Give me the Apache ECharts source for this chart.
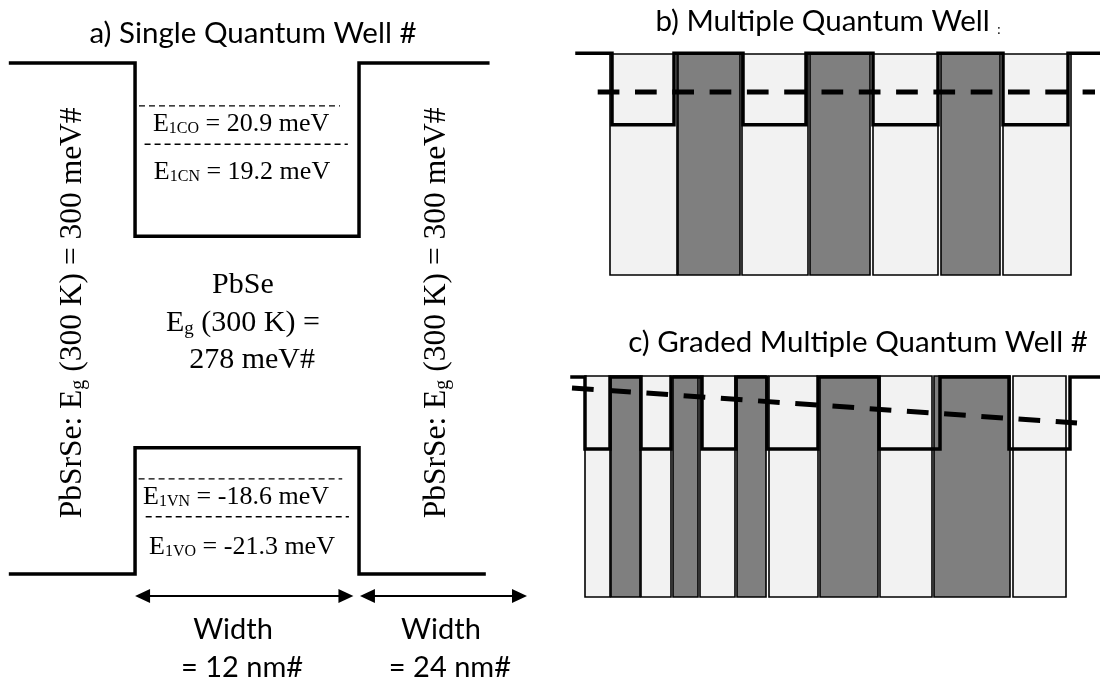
<!DOCTYPE html>
<html><head><meta charset="utf-8">
<script src="https://cdn.jsdelivr.net/npm/echarts@6/dist/echarts.min.js"></script>
<style>html,body{margin:0;padding:0;background:#fff}#c{width:1100px;height:686px}</style>
</head><body><div id="c"></div>
<script>
// ================= DATA =================
// a) Single quantum well  (x: position in nm, schematic; y: schematic energy 0..100)
const aCondX = [-6.67, 0, 0, 12, 12, 18.9];
const aCondY = [100, 100, 66.1, 66.1, 100, 100];
const aValX  = [-6.67, 0, 0, 12, 12, 18.7];
const aValY  = [0, 0, 24.7, 24.7, 0, 0];
const levelSubs   = ['1CO', '1CN', '1VN', '1VO'];
const levelValues = ['20.9', '19.2', '-18.6', '-21.3'];
const levelY      = [91.6, 84.1, 18.6, 11.2];
const levelStart  = [0.21, 0.51, 0.19, 0.57];
const levelEnd    = [10.98, 11.4, 11.1, 11.46];
const wellMaterial = 'PbSe';
const wellGap = '278';
const barrierMaterial = 'PbSrSe';
const barrierGap = '300';
const widthLabels = ['12 nm', '24 nm'];
const widthStart  = [0, 12.05];
const widthEnd    = [11.7, 21.0];

// b) Multiple quantum well (x: schematic position, y: 0..100)
const bLightStart = [10, 36.4, 62.6, 88.6];
const bLightEnd   = [23.4, 49.6, 75.6, 102.2];
const bDarkStart  = [23.6, 50, 76.2];
const bDarkEnd    = [36, 62, 88];
const bWellStart  = [10.4, 36.6, 62.6, 88.6];
const bWellEnd    = [22.8, 49.2, 75.6, 101.6];
const bProfile    = {start: 3.4, end: 108, top: 100.3, bottom: 68};
const bFermiX     = [7.54, 107];
const bFermiY     = [82.8, 82.8];

// c) Graded multiple quantum well
const cLightStart = [5, 16.2, 28, 41.8, 64, 90.6];
const cLightEnd   = [10, 22.2, 35, 51.6, 74.4, 101.2];
const cDarkStart  = [10.2, 22.6, 35.4, 52, 74.8];
const cDarkEnd    = [16, 27.6, 41.2, 63.6, 90];
const cWellStart  = [5, 16.2, 28.4, 41.4, 63.8, 89.8];
const cWellEnd    = [10, 22.2, 35.2, 51.6, 76, 102];
const cProfile    = {start: 2.4, end: 108, top: 99.6, bottom: 67};
const cFermiX     = [2.4, 103.4];
const cFermiY     = [94.6, 78.7];
const barHeight   = 100;

// ================= LAYOUT (label anchors in data coords) =================
const levelLabelPos = [[5.68, 88.1], [5.73, 78.7], [5.41, 15.1], [5.73, 5.3]];
const centerLabelPos = [[5.78, 56.5], [5.78, 49.1], [6.27, 41.9]];
const sideLabelPos = [[-3.32, 51.1], [16.18, 51.1]];
const widthWordPos = [[5.25, -10.8], [16.39, -10.8]];
const widthValuePos = [[5.73, -18.4], [16.87, -18.4]];
const arrowY = -4.3;

const SERIF = '"Liberation Serif", "Times New Roman", serif';
const SANS = 'Lato, "Open Sans", sans-serif';

function zip(xs, ys) { return xs.map((x, i) => [x, ys[i]]); }
function stepProfile(p, ws, we) {
  const pts = [[p.start, p.top]];
  ws.forEach((s, i) => { pts.push([s, p.top], [s, p.bottom], [we[i], p.bottom], [we[i], p.top]); });
  pts.push([p.end, p.top]);
  return pts;
}
function layerData(starts, ends) { return starts.map((s, i) => [s, ends[i], barHeight]); }

function layerSeries(idx, data, fill) {
  return {
    type: 'custom', xAxisIndex: idx, yAxisIndex: idx, z: 1,
    data: data, encode: {x: [0, 1], y: 2},
    renderItem: function (params, api) {
      const p0 = api.coord([api.value(0), api.value(2)]);
      const p1 = api.coord([api.value(1), 0]);
      return {type: 'rect', shape: {x: p0[0], y: p0[1], width: p1[0] - p0[0], height: p1[1] - p0[1]},
        style: {fill: fill, stroke: '#000', lineWidth: 1.6}};
    }
  };
}
function profileSeries(idx, data, width) {
  return {type: 'line', xAxisIndex: idx, yAxisIndex: idx, z: 3, data: data, symbol: 'none', clip: false,
    lineStyle: {color: '#000', width: width, join: 'miter', cap: 'square'}, silent: true};
}
function fermiSeries(idx, data) {
  return {type: 'line', xAxisIndex: idx, yAxisIndex: idx, z: 4, data: data, symbol: 'none', clip: false,
    lineStyle: {color: '#000', width: 5, type: [21.7, 15.6], cap: 'butt'}, silent: true};
}

const levelRich = {m: {fontFamily: SERIF, fontSize: 26, color: '#000'},
  s: {fontFamily: SERIF, fontSize: 16, color: '#000', verticalAlign: 'bottom'}};
const bigRich = {m: {fontFamily: SERIF, fontSize: 30, color: '#000'},
  s: {fontFamily: SERIF, fontSize: 19, color: '#000', verticalAlign: 'bottom'}};
const sideRich = {m: {fontFamily: SERIF, fontSize: 31.5, color: '#000'},
  s: {fontFamily: SERIF, fontSize: 20, color: '#000', verticalAlign: 'bottom'}};

// text items for panel a
const aTexts = [];
levelSubs.forEach((s, i) => aTexts.push({pos: levelLabelPos[i],
  text: '{m|E}{s|' + s + '}{m| = ' + levelValues[i] + ' meV}', rich: levelRich}));
aTexts.push({pos: centerLabelPos[0], text: '{m|' + wellMaterial + '}', rich: bigRich});
aTexts.push({pos: centerLabelPos[1], text: '{m|E}{s|g}{m| (300 K) =}', rich: bigRich});
aTexts.push({pos: centerLabelPos[2], text: '{m|' + wellGap + ' meV#}', rich: bigRich});
sideLabelPos.forEach(p => aTexts.push({pos: p, rot: Math.PI / 2,
  text: '{m|' + barrierMaterial + ': E}{s|g}{m| (300 K) = ' + barrierGap + ' meV#}', rich: sideRich}));
widthLabels.forEach((w, i) => {
  aTexts.push({pos: widthWordPos[i], text: 'Width', font: '29px ' + SANS});
  aTexts.push({pos: widthValuePos[i], text: '= ' + w + '#', font: '29px ' + SANS});
});

const chart = echarts.init(document.getElementById('c'));
chart.setOption({
  animation: false,
  backgroundColor: '#fff',
  grid: [
    {left: 10, top: 63, width: 517, height: 623},
    {left: 560, top: 54, width: 540, height: 221},
    {left: 560, top: 376, width: 540, height: 221}
  ],
  xAxis: [
    {gridIndex: 0, type: 'value', min: -6.7, max: 21.0, show: false},
    {gridIndex: 1, type: 'value', min: 0, max: 108, show: false},
    {gridIndex: 2, type: 'value', min: 0, max: 108, show: false}
  ],
  yAxis: [
    {gridIndex: 0, type: 'value', min: -21.92, max: 100, show: false},
    {gridIndex: 1, type: 'value', min: 0, max: 100, show: false},
    {gridIndex: 2, type: 'value', min: 0, max: 100, show: false}
  ],
  graphic: [
    {type: 'text', x: 253, y: 33, style: {text: 'a) Single Quantum Well #', font: '29.5px ' + SANS, fill: '#000', align: 'center', verticalAlign: 'middle'}},
    {type: 'text', x: 828, y: 21, style: {text: '{t|b) Multiple Quantum Well }{k|:}', align: 'center', verticalAlign: 'middle',
      rich: {t: {fontFamily: SANS, fontSize: 29.5, color: '#000'}, k: {fontFamily: SANS, fontSize: 13, color: '#000', verticalAlign: 'bottom'}}}},
    {type: 'text', x: 858, y: 342, style: {text: 'c) Graded Multiple Quantum Well #', font: '29.5px ' + SANS, fill: '#000', align: 'center', verticalAlign: 'middle'}}
  ],
  series: [
    // panel a band edges
    profileSeries(0, zip(aCondX, aCondY), 3.5),
    profileSeries(0, zip(aValX, aValY), 3.5),
    // panel a confined levels (thin dashed)
    {type: 'custom', xAxisIndex: 0, yAxisIndex: 0, z: 2,
      data: levelY.map((y, i) => [levelStart[i], levelEnd[i], y]), encode: {x: [0, 1], y: 2},
      renderItem: function (params, api) {
        const p0 = api.coord([api.value(0), api.value(2)]);
        const p1 = api.coord([api.value(1), api.value(2)]);
        return {type: 'line', shape: {x1: p0[0], y1: p0[1], x2: p1[0], y2: p1[1]},
          style: {stroke: '#000', lineWidth: 1.3, lineDash: [6, 4]}};
      }},
    // panel a width arrows
    {type: 'custom', xAxisIndex: 0, yAxisIndex: 0, z: 2,
      data: widthStart.map((s, i) => [s, widthEnd[i], arrowY]), encode: {x: [0, 1], y: 2},
      renderItem: function (params, api) {
        const p0 = api.coord([api.value(0), api.value(2)]);
        const p1 = api.coord([api.value(1), api.value(2)]);
        const L = 15, H = 7;
        return {type: 'group', children: [
          {type: 'line', shape: {x1: p0[0] + 4, y1: p0[1], x2: p1[0] - 4, y2: p1[1]}, style: {stroke: '#000', lineWidth: 2}},
          {type: 'polygon', shape: {points: [[p0[0], p0[1]], [p0[0] + L, p0[1] - H], [p0[0] + L, p0[1] + H]]}, style: {fill: '#000'}},
          {type: 'polygon', shape: {points: [[p1[0], p1[1]], [p1[0] - L, p1[1] - H], [p1[0] - L, p1[1] + H]]}, style: {fill: '#000'}}
        ]};
      }},
    // panel a texts
    {type: 'custom', xAxisIndex: 0, yAxisIndex: 0, z: 5,
      data: aTexts.map((t, i) => [t.pos[0], t.pos[1], i]), encode: {x: 0, y: 1},
      renderItem: function (params, api) {
        const t = aTexts[api.value(2)];
        const p = api.coord([api.value(0), api.value(1)]);
        const style = {text: t.text, align: 'center', verticalAlign: 'middle', fill: '#000'};
        if (t.rich) style.rich = t.rich; else style.font = t.font;
        return {type: 'text', x: p[0], y: p[1], rotation: t.rot || 0, style: style};
      }},
    // panel b
    layerSeries(1, layerData(bLightStart, bLightEnd), '#f2f2f2'),
    layerSeries(1, layerData(bDarkStart, bDarkEnd), '#7f7f7f'),
    profileSeries(1, stepProfile(bProfile, bWellStart, bWellEnd), 3.5),
    fermiSeries(1, zip(bFermiX, bFermiY)),
    // panel c
    layerSeries(2, layerData(cLightStart, cLightEnd), '#f2f2f2'),
    layerSeries(2, layerData(cDarkStart, cDarkEnd), '#7f7f7f'),
    profileSeries(2, stepProfile(cProfile, cWellStart, cWellEnd), 3.5),
    fermiSeries(2, zip(cFermiX, cFermiY))
  ]
});
</script></body></html>
